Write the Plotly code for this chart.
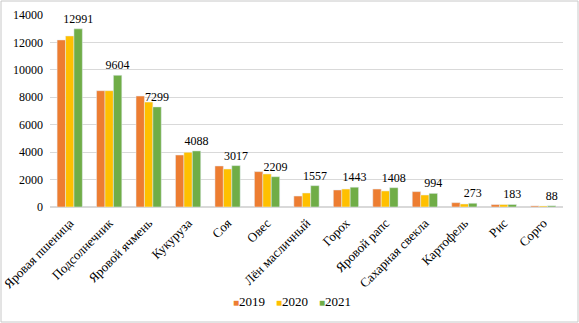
import plotly.graph_objects as go

crops = ["Яровая пшеница", "Подсолнечник", "Яровой ячмень", "Кукуруза", "Соя", "Овес",
         "Лён масличный", "Горох", "Яровой рапс", "Сахарная свекла", "Картофель", "Рис", "Сорго"]
y2019 = [12180, 8480, 8090, 3790, 2990, 2580, 800, 1240, 1310, 1120, 315, 175, 80]
y2020 = [12470, 8480, 7650, 3990, 2770, 2410, 1020, 1310, 1170, 875, 220, 180, 75]
y2021 = [12991, 9604, 7299, 4088, 3017, 2209, 1557, 1443, 1408, 994, 273, 183, 88]
years = ["2019", "2020", "2021"]

colors = {"2019": "#ED7D31", "2020": "#FFC000", "2021": "#70AD47"}
font = "Liberation Serif, Times New Roman, serif"

fig = go.Figure()
fig.add_bar(x=crops, y=y2019, name="2019", marker_color=colors["2019"])
fig.add_bar(x=crops, y=y2020, name="2020", marker_color=colors["2020"])
fig.add_bar(x=crops, y=y2021, name="2021", marker_color=colors["2021"],
            text=[str(v) for v in y2021], textposition="outside", constraintext="none",
            textfont=dict(family=font, size=12, color="#000"), cliponaxis=False)

W, H = 579, 323
ml, mr, mt, mb = 50, 16, 15, 116
pw, ph = W - ml - mr, H - mt - mb

# compact legend row drawn as annotations: small colour square + year
legend_x = [231, 274, 317]
annotations = []
for yr, px in zip(years, legend_x):
    annotations.append(dict(
        xref="paper", yref="paper",
        x=(px - ml) / pw, y=-(301 - mt - ph) / ph,
        xanchor="left", yanchor="middle", showarrow=False,
        text=f"<span style='color:{colors[yr]};font-size:10px'>■</span>{yr}",
        font=dict(family=font, size=13, color="#000")))

# thin frame round the whole chart: four separate lines, pixel positions in paper units
inset = 1
xl, xr = (inset - ml) / pw, (W - inset - ml) / pw
yb, yt = -(mb - inset) / ph, 1 + (mt - inset) / ph
frame_line = dict(color="#C8C8C8", width=1)
frame = [
    dict(type="line", xref="paper", yref="paper", x0=xl, x1=xr, y0=yt, y1=yt, line=frame_line),
    dict(type="line", xref="paper", yref="paper", x0=xl, x1=xr, y0=yb, y1=yb, line=frame_line),
    dict(type="line", xref="paper", yref="paper", x0=xl, x1=xl, y0=yb, y1=yt, line=frame_line),
    dict(type="line", xref="paper", yref="paper", x0=xr, x1=xr, y0=yb, y1=yt, line=frame_line),
]

fig.update_layout(
    width=W, height=H,
    margin=dict(l=ml, r=mr, t=mt, b=mb),
    paper_bgcolor="white", plot_bgcolor="white",
    font=dict(family=font, size=12, color="#000"),
    barmode="group", bargap=0.36, bargroupgap=0,
    showlegend=False,
    annotations=annotations,
    xaxis=dict(tickangle=-45, showgrid=False, showline=False, ticks="", automargin=False,
               tickfont=dict(family=font, size=13), ticklabelstandoff=5),
    yaxis=dict(range=[0, 14000], dtick=2000, tickformat="d", showgrid=True, automargin=False,
               gridcolor="#D9D9D9", gridwidth=1, zeroline=True, zerolinecolor="#D9D9D9",
               showline=False, tickfont=dict(family=font, size=12), ticks="",
               ticklabelstandoff=6),
    shapes=frame,
)

fig.write_html("out.html")
